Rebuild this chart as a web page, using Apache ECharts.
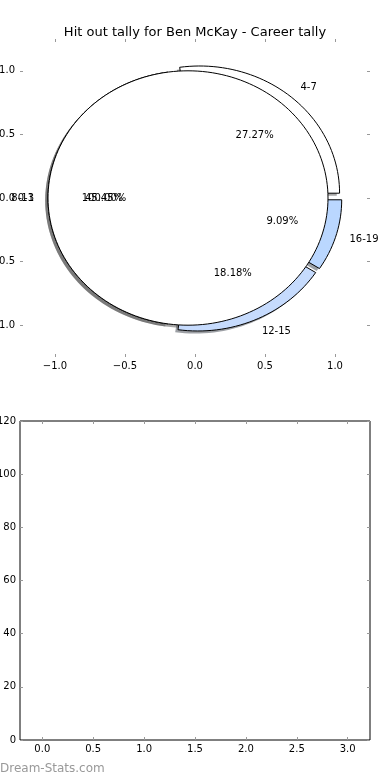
<!DOCTYPE html>
<html>
<head>
<meta charset="utf-8">
<script src="https://cdn.jsdelivr.net/npm/echarts@6/dist/echarts.min.js"></script>
<style>
  html, body { margin: 0; padding: 0; background: #fff; }
  #main { width: 390px; height: 780px; }
</style>
</head>
<body>
<div id="main"></div>
<script>
// hit out ranges and games in each range
var sliceLabels = ['4-7', '8-11', '12-15', '16-19'];
var sliceValues = [3, 5, 2, 1];
// second pie drawn on top (single slice, 100%)
var careerLabels = ['0-3'];
var careerValues = [11];

var pieTicks = [-1, -0.5, 0, 0.5, 1];
var barXTicks = [0, 0.5, 1, 1.5, 2, 2.5, 3];

var FONT = 'DejaVu Sans';
var sliceColors = ['#ffffff', '#ffffff', '#c6dbfd', '#bad7ff'];
var careerColors = ['#ffffff'];
var EXPLODE = 0.05;

//把每个饼图的数据转成扇形（角度按逆时针从0度开始）
function buildWedges(labels, values, colors) {
    var total = 0;
    values.forEach(function (v) { total += v; });
    var out = [];
    var t = 0;
    for (var i = 0; i < values.length; i++) {
        var span = values[i] / total * 360;
        var mid = (t + span / 2) * Math.PI / 180;
        out.push({
            label: labels[i],
            pct: (values[i] / total * 100).toFixed(2) + '%',
            t1: t,
            t2: t + span,
            mid: mid,
            ox: EXPLODE * Math.cos(mid),
            oy: EXPLODE * Math.sin(mid),
            color: colors[i]
        });
        t += span;
    }
    return out;
}

var wedges = buildWedges(sliceLabels, sliceValues, sliceColors)
    .concat(buildWedges(careerLabels, careerValues, careerColors));

function hexToShadow(hex) {
    var r = parseInt(hex.substr(1, 2), 16) * 0.3;
    var g = parseInt(hex.substr(3, 2), 16) * 0.3;
    var b = parseInt(hex.substr(5, 2), 16) * 0.3;
    return 'rgba(' + Math.round(r) + ',' + Math.round(g) + ',' + Math.round(b) + ',0.5)';
}

function wedgePoints(api, w, dx, dy) {
    var pts = [];
    var cx = w.ox + dx, cy = w.oy + dy;
    var full = (w.t2 - w.t1) >= 359.999;
    if (!full) pts.push(api.coord([cx, cy]));
    var n = Math.max(8, Math.ceil((w.t2 - w.t1) / 2));
    for (var k = 0; k <= n; k++) {
        var a = (w.t1 + (w.t2 - w.t1) * k / n) * Math.PI / 180;
        pts.push(api.coord([cx + Math.cos(a), cy + Math.sin(a)]));
    }
    return pts;
}

function fmtTick(v) {
    return (v < 0 ? '\u2212' : '') + Math.abs(v).toFixed(1);
}

var wedgeIdx = wedges.map(function (w, i) { return [i]; });

var tickStyle = { show: true, inside: true, length: 3, lineStyle: { color: '#999', width: 1 } };
var labelStyle = { color: '#000', fontSize: 10, fontFamily: FONT };
var noLine = { show: false, onZero: false };

var option = {
    animation: false,
    backgroundColor: '#fff',
    title: {
        text: 'Hit out tally for Ben McKay - Career tally',
        left: 'center',
        top: 21,
        textStyle: { fontSize: 13, fontWeight: 'normal', color: '#000', fontFamily: FONT }
    },
    graphic: [{
        type: 'text',
        left: 0,
        top: 763,
        style: { text: 'Dream-Stats.com', fill: '#999', fontSize: 12, fontFamily: FONT }
    }],
    grid: [
        { left: 20, top: 39, width: 350, height: 318, show: false, containLabel: false, outerBoundsMode: 'none' },
        { left: 20, top: 421, width: 350, height: 319, show: true, borderColor: '#000', borderWidth: 1,
          containLabel: false, outerBoundsMode: 'none' }
    ],
    xAxis: [
        {
            gridIndex: 0, type: 'value', min: -1.25, max: 1.25, position: 'bottom',
            axisLine: noLine, splitLine: { show: false },
            axisTick: Object.assign({ customValues: pieTicks }, tickStyle),
            axisLabel: Object.assign({ customValues: pieTicks, margin: 4, formatter: fmtTick }, labelStyle)
        },
        {
            gridIndex: 0, type: 'value', min: -1.25, max: 1.25, position: 'top',
            axisLine: noLine, splitLine: { show: false },
            axisTick: Object.assign({ customValues: pieTicks }, tickStyle),
            axisLabel: { show: false }
        },
        {
            gridIndex: 1, type: 'value', min: -0.219, max: 3.219, position: 'bottom',
            axisLine: noLine, splitLine: { show: false },
            axisTick: Object.assign({ customValues: barXTicks }, tickStyle),
            axisLabel: Object.assign({ customValues: barXTicks, margin: 4, formatter: fmtTick }, labelStyle)
        },
        {
            gridIndex: 1, type: 'value', min: -0.219, max: 3.219, position: 'top',
            axisLine: noLine, splitLine: { show: false },
            axisTick: Object.assign({ customValues: barXTicks }, tickStyle),
            axisLabel: { show: false }
        }
    ],
    yAxis: [
        {
            gridIndex: 0, type: 'value', min: -1.25, max: 1.25, position: 'left',
            axisLine: noLine, splitLine: { show: false },
            axisTick: Object.assign({ customValues: pieTicks }, tickStyle),
            axisLabel: Object.assign({ customValues: pieTicks, margin: 5, formatter: fmtTick }, labelStyle)
        },
        {
            gridIndex: 0, type: 'value', min: -1.25, max: 1.25, position: 'right',
            axisLine: noLine, splitLine: { show: false },
            axisTick: Object.assign({ customValues: pieTicks }, tickStyle),
            axisLabel: { show: false }
        },
        {
            gridIndex: 1, type: 'value', min: 0, max: 120, interval: 20, position: 'left',
            axisLine: noLine, splitLine: { show: false },
            axisTick: tickStyle,
            axisLabel: Object.assign({ margin: 4 }, labelStyle)
        },
        {
            gridIndex: 1, type: 'value', min: 0, max: 120, interval: 20, position: 'right',
            axisLine: noLine, splitLine: { show: false },
            axisTick: tickStyle,
            axisLabel: { show: false }
        }
    ],
    series: [
        {
            // 阴影
            type: 'custom', xAxisIndex: 0, yAxisIndex: 0, z: 1, silent: true,
            data: wedgeIdx,
            renderItem: function (params, api) {
                var w = wedges[params.dataIndex];
                return {
                    type: 'polygon',
                    shape: { points: wedgePoints(api, w, -0.02, -0.02) },
                    style: { fill: hexToShadow(w.color), stroke: null }
                };
            }
        },
        {
            // 扇形
            type: 'custom', xAxisIndex: 0, yAxisIndex: 0, z: 2, silent: true,
            data: wedgeIdx,
            renderItem: function (params, api) {
                var w = wedges[params.dataIndex];
                return {
                    type: 'polygon',
                    z2: params.dataIndex,
                    shape: { points: wedgePoints(api, w, 0, 0) },
                    style: { fill: w.color, stroke: '#000', lineWidth: 1 }
                };
            }
        },
        {
            // 标签和百分比
            type: 'custom', xAxisIndex: 0, yAxisIndex: 0, z: 3, silent: true,
            data: wedgeIdx,
            renderItem: function (params, api) {
                var w = wedges[params.dataIndex];
                var lx = 1.1 * Math.cos(w.mid) + w.ox;
                var ly = 1.1 * Math.sin(w.mid) + w.oy;
                var px = 0.6 * Math.cos(w.mid) + w.ox;
                var py = 0.6 * Math.sin(w.mid) + w.oy;
                var lp = api.coord([lx, ly]);
                var pp = api.coord([px, py]);
                return {
                    type: 'group',
                    children: [
                        {
                            type: 'text',
                            style: {
                                text: w.label, x: lp[0], y: lp[1],
                                align: lx > 0 ? 'left' : 'right', verticalAlign: 'middle',
                                fill: '#000', fontSize: 10, fontFamily: FONT
                            }
                        },
                        {
                            type: 'text',
                            style: {
                                text: w.pct, x: pp[0], y: pp[1],
                                align: 'center', verticalAlign: 'middle',
                                fill: '#000', fontSize: 10, fontFamily: FONT
                            }
                        }
                    ]
                };
            }
        },
        {
            type: 'line', xAxisIndex: 2, yAxisIndex: 2, data: []
        }
    ]
};

var chart = echarts.init(document.getElementById('main'));
chart.setOption(option);
</script>
</body>
</html>
